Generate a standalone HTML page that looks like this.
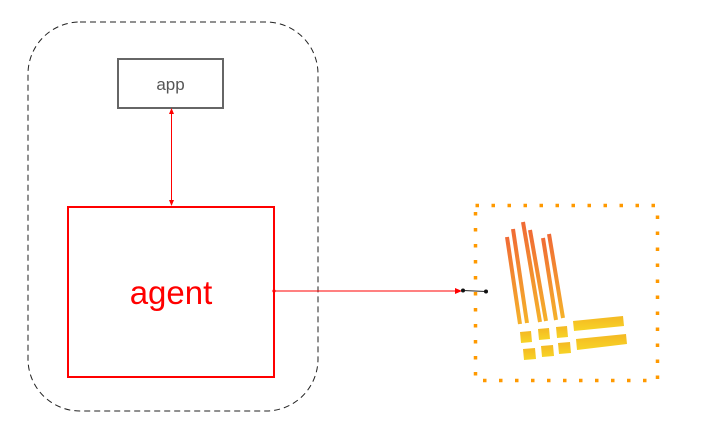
<!DOCTYPE html>
<html><head><meta charset="utf-8"><style>
html,body{margin:0;padding:0;background:#fff;}
svg{display:block;}
</style></head><body>
<svg width="719" height="427" viewBox="0 0 719 427" xmlns="http://www.w3.org/2000/svg">
<defs>
<linearGradient id="g1" x1="0" y1="0" x2="0" y2="1">
<stop offset="0" stop-color="#f06a35"/><stop offset="1" stop-color="#f5b12a"/>
</linearGradient>
<linearGradient id="g2" x1="0" y1="0" x2="0" y2="1">
<stop offset="0" stop-color="#f4b823"/><stop offset="1" stop-color="#f7d426"/>
</linearGradient>
</defs>
<rect x="28" y="22" width="290" height="389" rx="52" ry="52" fill="none" stroke="#222" stroke-width="1" stroke-dasharray="6 4"/>
<rect x="118" y="59" width="105" height="49" fill="#fff" stroke="#666" stroke-width="2"/>
<text x="170.5" y="90" font-family="Liberation Sans, sans-serif" font-size="17" fill="#555" text-anchor="middle">app</text>
<rect x="68" y="207" width="206" height="170" fill="#fff" stroke="#f00" stroke-width="2"/>
<text x="171" y="304" font-family="Liberation Sans, sans-serif" font-size="33" fill="#f00" text-anchor="middle">agent</text>
<!-- vertical arrow -->
<line x1="171.5" y1="113" x2="171.5" y2="201" stroke="#f00" stroke-width="1"/>
<polygon points="171.5,108 169,114 174,114" fill="#f00"/>
<polygon points="171.5,206 169,200 174,200" fill="#f00"/>
<!-- horizontal arrow -->
<circle cx="274" cy="291" r="1.6" fill="#f00"/>
<line x1="274" y1="291" x2="456" y2="291" stroke="#f00" stroke-width="1"/>
<polygon points="462,291 455,288 455,294" fill="#f00"/>
<line x1="463" y1="290.5" x2="486" y2="291.5" stroke="#222" stroke-width="1"/>
<circle cx="463" cy="290.5" r="2" fill="#111"/>
<circle cx="486" cy="291.5" r="2" fill="#111"/>
<!-- dotted orange box -->
<rect x="475.5" y="205.5" width="182" height="175" fill="none" stroke="#ff9900" stroke-width="3.5" stroke-dasharray="3.5 12.5"/>
<!-- logo -->
<g stroke="url(#g1)" stroke-width="4" stroke-linecap="butt">
<line x1="507" y1="237" x2="520" y2="324"/>
<line x1="513" y1="229" x2="527" y2="323"/>
<line x1="523" y1="222" x2="540" y2="322"/>
<line x1="530" y1="230" x2="546" y2="321"/>
<line x1="543" y1="238" x2="556" y2="320"/>
<line x1="549" y1="234" x2="563" y2="318"/>
</g>
<g fill="url(#g2)">
<polygon points="520,332 531,331 532,342 521,343"/>
<polygon points="538,329 549,328 550,339 539,340"/>
<polygon points="556,327 567,326 568,337 557,338"/>
<polygon points="573,321 623,316 624,326 574,331"/>
<polygon points="523,349 535,348 536,359 524,360"/>
<polygon points="541,346 553,345 554,356 542,357"/>
<polygon points="558,343 570,342 571,353 559,354"/>
<polygon points="576,339 626,334 627,344 577,350"/>
</g>
</svg>
</body></html>
